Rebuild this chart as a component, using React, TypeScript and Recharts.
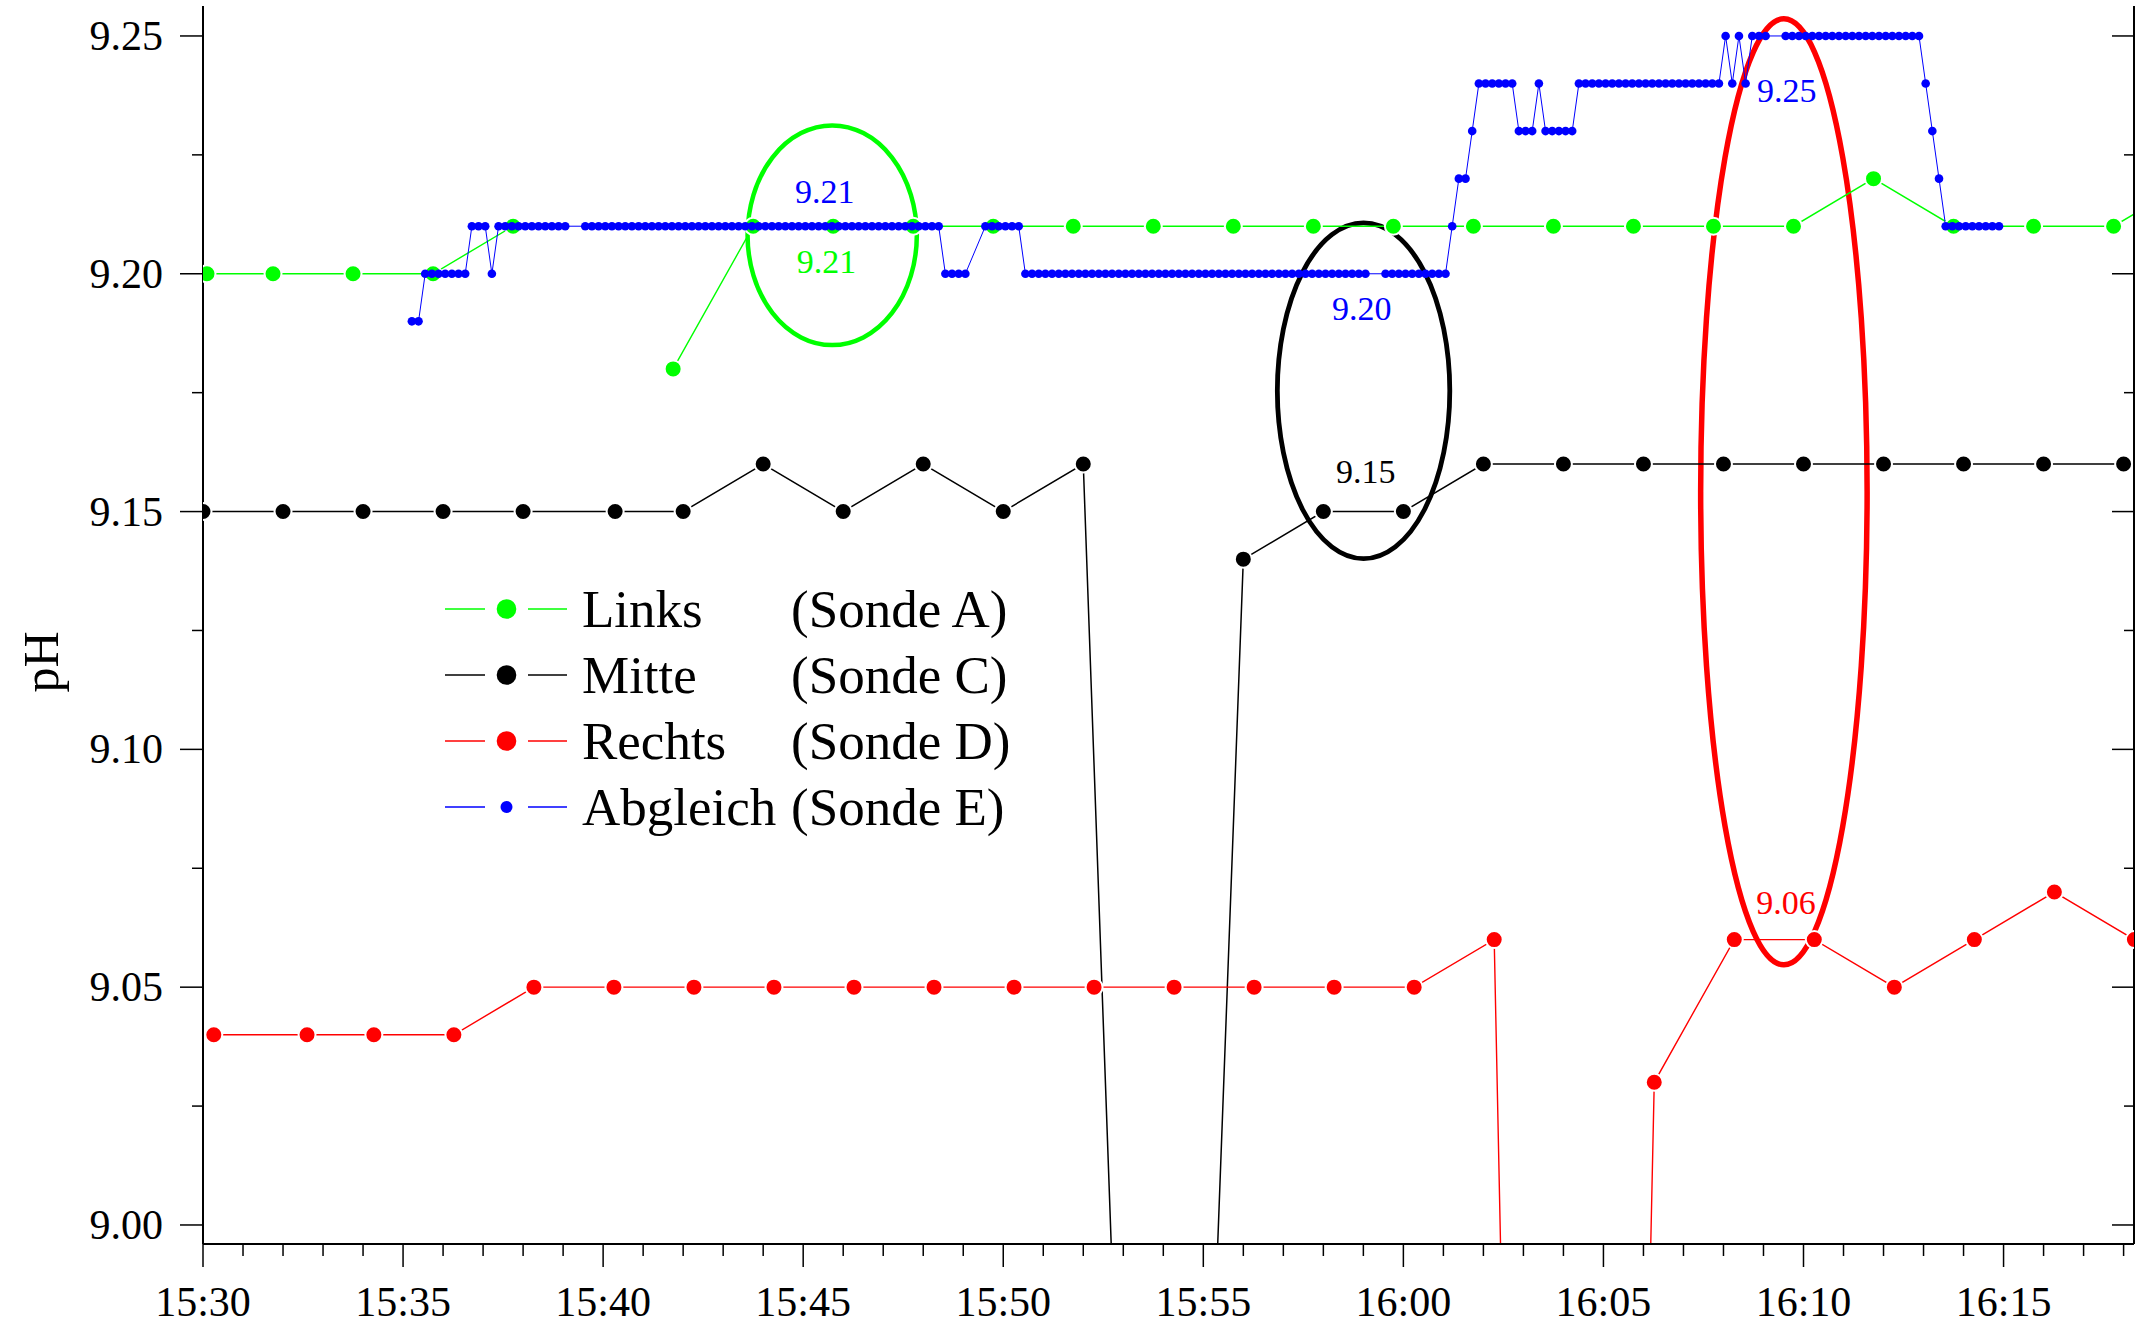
import {
  ComposedChart,
  Line,
  XAxis,
  YAxis,
  ReferenceArea,
  ReferenceDot,
  Legend
} from "recharts";

const FONT = '"Liberation Serif", "Times New Roman", serif';

const GREEN = "#00ff00";
const BLACK = "#000000";
const RED = "#ff0000";
const BLUE = "#0000ff";

// time axis: minutes after 15:30
const xTicks = Array.from({ length: 49 }, (_, i) => i);
const xTickLabels = ["15:30", "15:35", "15:40", "15:45", "15:50", "15:55", "16:00", "16:05", "16:10", "16:15"];
const yTicks = [9.0, 9.025, 9.05, 9.075, 9.1, 9.125, 9.15, 9.175, 9.2, 9.225, 9.25];

// Links (Sonde A)
const greenTimes = [0.1, 1.75, 3.75, 5.75, 7.75, 9.75, 11.75, 13.75, 15.75, 17.75, 19.75, 21.75, 23.75,
  25.75, 27.75, 29.75, 31.75, 33.75, 35.75, 37.75, 39.75, 41.75, 43.75, 45.75, 47.75, 49.75];
const greenValues = [9.2, 9.2, 9.2, 9.2, 9.21, null, 9.18, 9.21, 9.21, 9.21, 9.21, 9.21, 9.21,
  9.21, 9.21, 9.21, 9.21, 9.21, 9.21, 9.21, 9.21, 9.22, 9.21, 9.21, 9.21, 9.22];

// Mitte (Sonde C)
const blackTimes = [0, 2, 4, 6, 8, 10.3, 12, 14, 16, 18, 20, 22, 24, 26, 28, 30, 32, 34, 36, 38, 40, 42, 44, 46, 48, 50];
const blackValues = [9.15, 9.15, 9.15, 9.15, 9.15, 9.15, 9.15, 9.16, 9.15, 9.16, 9.15, 9.16, 8.69,
  9.14, 9.15, 9.15, 9.16, 9.16, 9.16, 9.16, 9.16, 9.16, 9.16, 9.16, 9.16, 9.16];

// Rechts (Sonde D)
const redTimes = [0.27, 2.6, 4.27, 6.27, 8.27, 10.27, 12.27, 14.27, 16.27, 18.27, 20.27, 22.27, 24.27,
  26.27, 28.27, 30.27, 32.27, 34.27, 36.27, 38.27, 40.27, 42.27, 44.27, 46.27, 48.27];
const redValues = [9.04, 9.04, 9.04, 9.04, 9.05, 9.05, 9.05, 9.05, 9.05, 9.05, 9.05, 9.05, 9.05,
  9.05, 9.05, 9.05, 9.06, 8.25, 9.03, 9.06, 9.06, 9.05, 9.06, 9.07, 9.06];

// Abgleich (Sonde E): one reading every 10 s from 15:35:13, null = no reading
const blueStart = 5.22;
const blueStep = 1 / 6;
const blueValues = [
  9.19, 9.19, 9.2, 9.2, 9.2, 9.2, 9.2, 9.2, 9.2, 9.21,
  9.21, 9.21, 9.2, 9.21, 9.21, 9.21, 9.21, 9.21, 9.21, 9.21,
  9.21, 9.21, 9.21, 9.21, null, null, 9.21, 9.21, 9.21, 9.21,
  9.21, 9.21, 9.21, 9.21, 9.21, 9.21, 9.21, 9.21, 9.21, 9.21,
  9.21, 9.21, 9.21, 9.21, 9.21, 9.21, 9.21, 9.21, 9.21, 9.21,
  9.21, 9.21, 9.21, 9.21, 9.21, 9.21, 9.21, 9.21, 9.21, 9.21,
  9.21, 9.21, 9.21, 9.21, 9.21, 9.21, 9.21, 9.21, 9.21, 9.21,
  9.21, 9.21, 9.21, 9.21, 9.21, 9.21, 9.21, 9.21, 9.21, 9.21,
  9.2, 9.2, 9.2, 9.2, null, null, 9.21, 9.21, 9.21, 9.21,
  9.21, 9.21, 9.2, 9.2, 9.2, 9.2, 9.2, 9.2, 9.2, 9.2,
  9.2, 9.2, 9.2, 9.2, 9.2, 9.2, 9.2, 9.2, 9.2, 9.2,
  9.2, 9.2, 9.2, 9.2, 9.2, 9.2, 9.2, 9.2, 9.2, 9.2,
  9.2, 9.2, 9.2, 9.2, 9.2, 9.2, 9.2, 9.2, 9.2, 9.2,
  9.2, 9.2, 9.2, 9.2, 9.2, 9.2, 9.2, 9.2, 9.2, 9.2,
  9.2, 9.2, 9.2, 9.2, null, null, 9.2, 9.2, 9.2, 9.2,
  9.2, 9.2, 9.2, 9.2, 9.2, 9.2, 9.21, 9.22, 9.22, 9.23,
  9.24, 9.24, 9.24, 9.24, 9.24, 9.24, 9.23, 9.23, 9.23, 9.24,
  9.23, 9.23, 9.23, 9.23, 9.23, 9.24, 9.24, 9.24, 9.24, 9.24,
  9.24, 9.24, 9.24, 9.24, 9.24, 9.24, 9.24, 9.24, 9.24, 9.24,
  9.24, 9.24, 9.24, 9.24, 9.24, 9.24, 9.24, 9.25, 9.24, 9.25,
  9.24, 9.25, 9.25, 9.25, null, null, 9.25, 9.25, 9.25, 9.25,
  9.25, 9.25, 9.25, 9.25, 9.25, 9.25, 9.25, 9.25, 9.25, 9.25,
  9.25, 9.25, 9.25, 9.25, 9.25, 9.25, 9.25, 9.24, 9.23, 9.22,
  9.21, 9.21, 9.21, 9.21, 9.21, 9.21, 9.21, 9.21, 9.21
];

const legendNames = ["Links", "Mitte", "Rechts", "Abgleich"];
const legendProbes = ["(Sonde A)", "(Sonde C)", "(Sonde D)", "(Sonde E)"];
const legendColors = [GREEN, BLACK, RED, BLUE];

// value labels written into the plot
const noteTexts = ["9.21", "9.21", "9.20", "9.15", "9.25", "9.06"];
const noteTimes = [15.54, 15.58, 28.96, 29.06, 39.58, 39.56];
const noteValues = [9.2173, 9.2025, 9.1927, 9.1584, 9.2386, 9.0678];
const noteColors = [BLUE, GREEN, BLUE, BLACK, BLUE, RED];

// hand drawn ellipses: time from/to, pH from/to
const ringTimes = [[13.61, 17.84], [26.85, 31.16], [37.43, 41.59]];
const ringValues = [[9.185, 9.2312], [9.1401, 9.2107], [9.0547, 9.2536]];
const ringColors = [GREEN, BLACK, RED];
const ringWidths = [4.5, 4.8, 5.5];

const toPoints = (times: number[], values: (number | null)[]) =>
  times.map((t, i) => ({ t, v: values[i] }));

const greenData = toPoints(greenTimes, greenValues);
const blackData = toPoints(blackTimes, blackValues);
const redData = toPoints(redTimes, redValues);
const blueData = blueValues
  .map((v, i) => ({ t: blueStart + i * blueStep, v }))
  .filter((p) => p.v !== null);

const X_DOMAIN = [0, 48.26];
const Y_DOMAIN = [8.996, 9.2563];

const BottomTick = ({ x, y, payload }: any) => {
  const major = payload.value % 5 === 0;
  return (
    <g>
      <line x1={x} y1={y} x2={x} y2={y + (major ? 23 : 12)} stroke="#000" strokeWidth={1.5} />
      {major && (
        <text x={x} y={y + 72} textAnchor="middle" fontFamily={FONT} fontSize={42} fill="#000">
          {xTickLabels[payload.value / 5]}
        </text>
      )}
    </g>
  );
};

const TopTick = ({ x, y, payload }: any) => {
  const major = payload.value % 5 === 0;
  return <line x1={x} y1={y} x2={x} y2={y + (major ? 23 : 11)} stroke="#000" strokeWidth={1.5} />;
};

const isMajorY = (v: number) => Math.round(v * 1000) % 50 === 0;

const LeftTick = ({ x, y, payload }: any) => {
  const major = isMajorY(payload.value);
  return (
    <g>
      <line x1={x - (major ? 23 : 11)} y1={y} x2={x} y2={y} stroke="#000" strokeWidth={1.5} />
      {major && (
        <text x={x - 40} y={y + 14} textAnchor="end" fontFamily={FONT} fontSize={42} fill="#000">
          {payload.value.toFixed(2)}
        </text>
      )}
    </g>
  );
};

const RightTick = ({ x, y, payload }: any) => {
  const major = isMajorY(payload.value);
  return <line x1={x - (major ? 22 : 10)} y1={y} x2={x} y2={y} stroke="#000" strokeWidth={1.5} />;
};

const renderLegend = () => (
  <svg width={620} height={280} style={{ display: "block", overflow: "visible" }}>
    {legendNames.map((name, i) => {
      const cy = 39 + i * 66;
      const c = legendColors[i];
      return (
        <g key={name}>
          <line x1={5} y1={cy} x2={45} y2={cy} stroke={c} strokeWidth={1.4} />
          <line x1={88} y1={cy} x2={127} y2={cy} stroke={c} strokeWidth={1.4} />
          <circle cx={66.5} cy={cy} r={i === 3 ? 6 : 9.8} fill={c} />
          <text x={142} y={cy + 18} fontFamily={FONT} fontSize={53} fill="#000">{name}</text>
          <text x={351} y={cy + 18} fontFamily={FONT} fontSize={53} fill="#000">{legendProbes[i]}</text>
        </g>
      );
    })}
  </svg>
);

const pHLabel = ({ viewBox }: any) => {
  const cx = 41;
  const cy = viewBox.y + viewBox.height / 2 + 37;
  return (
    <text x={cx} y={cy} transform={`rotate(-90 ${cx} ${cy})`} textAnchor="middle" dominantBaseline="central"
      fontFamily={FONT} fontSize={50} fill="#000">
      pH
    </text>
  );
};

export default function App() {
  return (
    <div style={{ position: "absolute", left: 0, top: 0, width: 2154, height: 1325, background: "#fff" }}>
      <ComposedChart width={2154} height={1325} margin={{ top: 6, right: 0, bottom: 0, left: 0 }}>
        <XAxis
          dataKey="t"
          type="number"
          domain={X_DOMAIN}
          ticks={xTicks}
          interval={0}
          allowDataOverflow
          height={81}
          tickSize={0}
          tickMargin={0}
          tickLine={false}
          tick={(p: any) => <BottomTick {...p} />}
          axisLine={{ stroke: "#000", strokeWidth: 2 }}
        />
        <XAxis
          xAxisId="top"
          orientation="top"
          dataKey="t"
          type="number"
          domain={X_DOMAIN}
          ticks={xTicks}
          interval={0}
          allowDataOverflow
          height={0}
          tickSize={0}
          tickMargin={0}
          tickLine={false}
          tick={(p: any) => <TopTick {...p} />}
          axisLine={{ stroke: "#000", strokeWidth: 2 }}
        />
        <YAxis
          type="number"
          domain={Y_DOMAIN}
          ticks={yTicks}
          interval={0}
          allowDataOverflow
          width={203}
          tickSize={0}
          tickMargin={0}
          tickLine={false}
          tick={(p: any) => <LeftTick {...p} />}
          axisLine={{ stroke: "#000", strokeWidth: 2 }}
          label={pHLabel}
        />
        <YAxis
          yAxisId="right"
          orientation="right"
          type="number"
          domain={Y_DOMAIN}
          ticks={yTicks}
          interval={0}
          allowDataOverflow
          width={20}
          tickSize={0}
          tickMargin={0}
          tickLine={false}
          tick={(p: any) => <RightTick {...p} />}
          axisLine={{ stroke: "#000", strokeWidth: 2 }}
        />

        <Line data={greenData} dataKey="v" name="Links" stroke={GREEN} strokeWidth={1.4}
          dot={{ r: 8.5, fill: GREEN, stroke: "#fff", strokeWidth: 2 }} activeDot={false}
          isAnimationActive={false} />
        <Line data={blackData} dataKey="v" name="Mitte" stroke={BLACK} strokeWidth={1.5}
          dot={{ r: 8.5, fill: BLACK, stroke: "#fff", strokeWidth: 2 }} activeDot={false}
          isAnimationActive={false} />
        <Line data={redData} dataKey="v" name="Rechts" stroke={RED} strokeWidth={1.4}
          dot={{ r: 8.5, fill: RED, stroke: "#fff", strokeWidth: 2 }} activeDot={false}
          isAnimationActive={false} />
        <Line data={blueData} dataKey="v" name="Abgleich" stroke={BLUE} strokeWidth={1}
          dot={{ r: 4.3, fill: BLUE, stroke: "none" }} activeDot={false}
          isAnimationActive={false} />

        {ringTimes.map((tt, i) => (
          <ReferenceArea
            key={`ring${i}`}
            x1={tt[0]}
            x2={tt[1]}
            y1={ringValues[i][0]}
            y2={ringValues[i][1]}
            shape={(p: any) => (
              <ellipse cx={p.x + p.width / 2} cy={p.y + p.height / 2} rx={p.width / 2} ry={p.height / 2}
                fill="none" stroke={ringColors[i]} strokeWidth={ringWidths[i]} />
            )}
          />
        ))}

        {noteTexts.map((txt, i) => (
          <ReferenceDot
            key={`note${i}`}
            x={noteTimes[i]}
            y={noteValues[i]}
            r={0}
            shape={(p: any) => (
              <text x={p.cx} y={p.cy + 11.5} textAnchor="middle" fontFamily={FONT} fontSize={34} fill={noteColors[i]}>
                {txt}
              </text>
            )}
          />
        ))}

        <Legend
          content={renderLegend}
          layout="vertical"
          align="center"
          verticalAlign="middle"
          wrapperStyle={{ left: 440, top: 570, width: 620, height: 280 }}
        />
      </ComposedChart>
    </div>
  );
}
